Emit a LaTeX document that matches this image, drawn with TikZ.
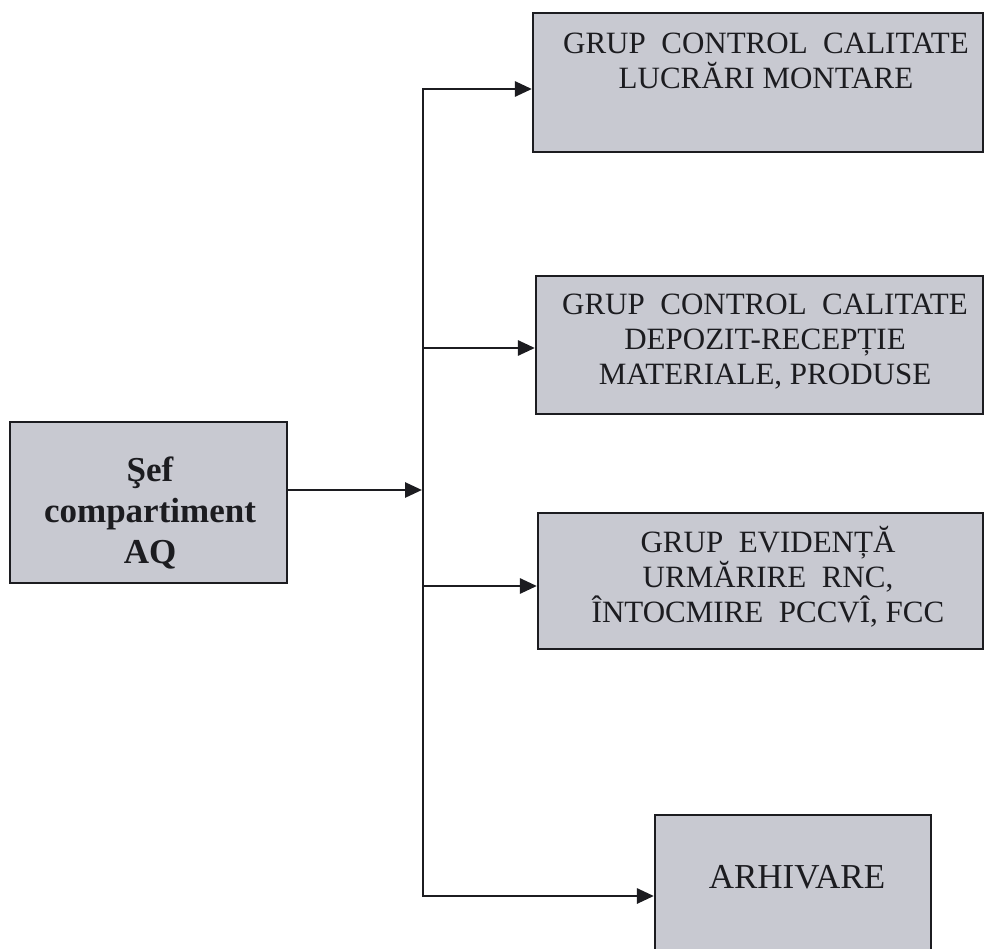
\documentclass[tikz,border=0pt]{standalone}
\usepackage{fontspec}
\setmainfont{Liberation Serif}
\usetikzlibrary{arrows.meta}
\definecolor{boxgray}{RGB}{200,201,209}
\definecolor{inkblack}{RGB}{28,28,32}
\begin{document}
\begin{tikzpicture}[x=1pt, y=-1pt,
        grupbox/.style={draw=inkblack, line width=2.2pt, fill=boxgray, inner sep=0pt},
        grupttext/.style={align=center, inner sep=0pt, text=inkblack, font=\fontsize{31}{35}\selectfont},
        arr/.style={line width=2.8pt, draw=inkblack, -{Triangle[length=17pt, width=15pt]}}]
        \useasboundingbox (0,0) rectangle (984,949);
        % Boxes
        \node[grupbox, minimum width=277pt, minimum height=161pt] (sef) at (148.5,502.5) {};
        \node[grupbox, minimum width=450pt, minimum height=139pt] (lucrari) at (758,82.5) {};
        \node[grupbox, minimum width=447pt, minimum height=138pt] (depozit) at (759.5,345) {};
        \node[grupbox, minimum width=445pt, minimum height=136pt] (evidenta) at (760.5,581) {};
        \node[grupbox, minimum width=276pt, minimum height=160pt] (arhivare) at (793,895) {};
        % Texts
        \node[grupttext, font=\bfseries\fontsize{35}{41}\selectfont] (seftxt) at (150,513) {Şef\\compartiment\\AQ};
        \node[grupttext] (lucraritxt) at (766,61) {GRUP\ \ CONTROL\ \ CALITATE\\LUCRĂRI MONTARE};
        \node[grupttext] (depozittxt) at (765,342) {GRUP\ \ CONTROL\ \ CALITATE\\DEPOZIT-RECEPȚIE\\MATERIALE, PRODUSE};
        \node[grupttext] (evidentatxt) at (768,577) {GRUP\ \ EVIDENȚĂ\\URMĂRIRE\ \ RNC,\\ÎNTOCMIRE\ \ PCCVÎ, FCC};
        \node[grupttext, font=\fontsize{35}{40}\selectfont] (arhivaretxt) at (797,877) {ARHIVARE};
        % Trunk
        \coordinate (t1) at (423,89);
        \coordinate (t2) at (423,348);
        \coordinate (t3) at (423,586);
        \coordinate (t4) at (423,896);
        \coordinate (tsef) at (422,490);
        \draw[line width=2.8pt, inkblack, line cap=rect] (t1) -- (t4);
        % Arrows
        \draw[arr] (sef.east |- tsef) -- (tsef);
        \draw[arr] (t1) -- (t1 -| lucrari.west);
        \draw[arr] (t2) -- (t2 -| depozit.west);
        \draw[arr] (t3) -- (t3 -| evidenta.west);
        \draw[arr] (t4) -- (t4 -| arhivare.west);
    \end{tikzpicture}
\end{document}
